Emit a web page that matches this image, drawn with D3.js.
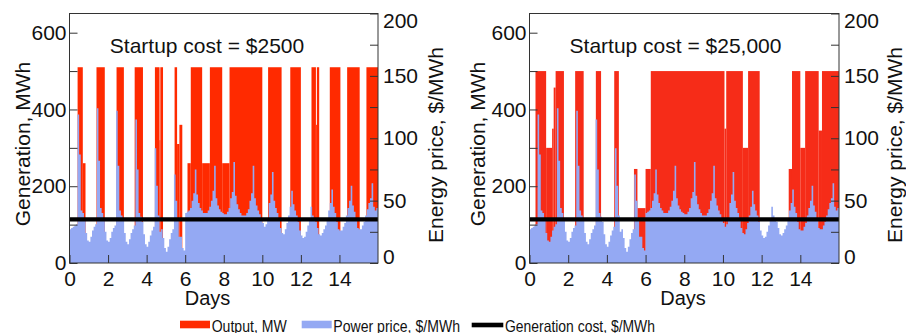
<!DOCTYPE html>
<html>
<head>
<meta charset="utf-8">
<script src="https://cdn.jsdelivr.net/npm/d3@7"></script>
<style>
body { margin: 0; background: #fff; }
svg { display: block; font-family: "Liberation Sans", Arial, Helvetica, sans-serif; }
</style>
</head>
<body>
<svg width="906" height="333"></svg>
<script>
// tick values
var xTicks = [0, 2, 4, 6, 8, 10, 12, 14]
var genTicks = [0, 200, 400, 600]
var genAll = [0, 100, 200, 300, 400, 500, 600]
var priceTicks = [0, 50, 100, 150, 200]
var priceAll = [0, 25, 50, 75, 100, 125, 150, 175, 200]

// power price, $/MWh, one row per day, 2-hour steps
var price = [
  [27, 28, 29, 30, 31, 119, 87, 42, 40, 36, 24, 18],
  [17, 21, 26, 29, 31, 124, 82, 44, 40, 35, 25, 18],
  [17, 20, 25, 28, 30, 122, 78, 42, 38, 34, 24, 17],
  [15, 19, 24, 27, 30, 115, 75, 40, 37, 33, 23, 15],
  [13, 17, 22, 26, 29, 92, 62, 38, 25, 27, 20, 12],
  [9, 13, 19, 24, 27, 71, 50, 36, 21, 21, 12, 10],
  [40, 41, 42, 44, 50, 56, 75, 55, 48, 44, 42, 40],
  [40, 40, 42, 45, 50, 58, 78, 52, 46, 43, 41, 40],
  [39, 39, 41, 44, 52, 57, 81, 54, 47, 43, 40, 38],
  [38, 38, 40, 43, 50, 56, 78, 52, 46, 42, 39, 36],
  [32, 29, 31, 36, 48, 55, 73, 50, 44, 40, 35, 28],
  [24, 23, 27, 32, 38, 45, 58, 47, 42, 38, 33, 26],
  [22, 20, 21, 25, 30, 36, 45, 38, 35, 33, 28, 23],
  [22, 24, 27, 30, 36, 42, 48, 59, 45, 40, 33, 27],
  [26, 26, 29, 32, 38, 44, 50, 62, 46, 41, 34, 28],
  [27, 27, 30, 33, 38, 43, 48, 52, 64, 45, 42, 44]
]

var cost = 35

// output, MW: [start day, end day, level]
var outputLow = [
  [0.42, 0.69, 510], [0.69, 0.83, 260],
  [1.40, 1.83, 510],
  [2.44, 2.82, 510],
  [3.38, 3.81, 510],
  [4.43, 4.67, 510], [4.67, 4.71, 320], [4.71, 4.85, 510],
  [5.45, 5.58, 510], [5.58, 5.70, 310], [5.70, 5.85, 360],
  [6.12, 6.29, 260], [6.29, 6.88, 510], [6.88, 7.28, 260], [7.28, 7.92, 510], [7.92, 8.30, 260],
  [8.30, 10.0, 510],
  [10.30, 11.0, 510],
  [11.45, 12.0, 510],
  [12.55, 12.78, 510], [12.78, 12.83, 360], [12.83, 12.95, 510],
  [13.5, 14.05, 510],
  [14.4, 15.05, 510],
  [15.4, 16.0, 510]
]
var outputHigh = [
  [0.31, 0.86, 500], [0.86, 1.17, 300], [1.17, 1.25, 350], [1.25, 1.35, 457], [1.35, 1.78, 500],
  [2.36, 2.80, 500],
  [3.43, 3.70, 500],
  [4.38, 4.62, 500],
  [5.40, 5.58, 245], [5.58, 6.0, 143], [6.0, 6.27, 245],
  [6.27, 10.08, 500], [10.08, 10.17, 350], [10.17, 11.03, 500], [11.03, 11.3, 300], [11.3, 11.9, 500],
  [13.4, 13.57, 245], [13.57, 14.0, 500], [14.0, 14.25, 300], [14.25, 14.95, 500], [14.95, 15.12, 345], [15.12, 16.0, 500]
]

var titles = ["Startup cost = $2500", "Startup cost = $25,000"]
var legendLabels = ["Output, MW", "Power price, $/MWh", "Generation cost, $/MWh"]

var blue = "#94a9f3"
var svg = d3.select("svg")
var yTop = 13.5, yBot = 263

var series = []
price.forEach((row, d) => row.forEach((v, i) => series.push([d + i / 12, v])))
series.push([16, price[15][11]])

var panels = [
  {x0: 69.5, x1: 378, out: outputLow, title: titles[0], red: "#ff2a00", tx: 207, dx: 207.5, lt: 30, rt: 442.5},
  {x0: 529.5, x1: 839, out: outputHigh, title: titles[1], red: "#f62c18", tx: 675.5, dx: 683, lt: 484.5, rt: 902}
]

panels.forEach(p => {
  var x = d3.scaleLinear().domain([0, 16]).range([p.x0, p.x1])
  var yG = d3.scaleLinear().domain([0, 650]).range([yBot, yTop])
  var yP = d3.scaleLinear().domain([0, 200]).range([yBot, yTop])
  var g = svg.append("g")

  g.selectAll("rect.out").data(p.out).join("rect")
    .attr("class", "out")
    .attr("x", d => x(d[0]))
    .attr("width", d => x(d[1]) - x(d[0]))
    .attr("y", d => yG(d[2]))
    .attr("height", d => yG(0) - yG(d[2]))
    .attr("fill", p.red)

  g.append("path").datum(series)
    .attr("fill", blue)
    .attr("d", d3.area().curve(d3.curveStepAfter)
      .x(d => x(d[0])).y0(yP(0)).y1(d => yP(d[1])))

  g.append("line")
    .attr("x1", x(0)).attr("x2", x(16))
    .attr("y1", yP(cost)).attr("y2", yP(cost))
    .attr("stroke", "#000").attr("stroke-width", 4.3)

  g.append("rect")
    .attr("x", p.x0).attr("y", yTop)
    .attr("width", p.x1 - p.x0).attr("height", yBot - yTop)
    .attr("fill", "none").attr("stroke", "#333").attr("stroke-width", 1)

  var ax = g.append("g").attr("transform", `translate(0,${yBot})`)
    .call(d3.axisBottom(x).tickValues(xTicks).tickSize(-8).tickPadding(8.5))
  var ay = g.append("g").attr("transform", `translate(${p.x0},0)`)
    .call(d3.axisLeft(yG).tickValues(genAll).tickSize(-8).tickPadding(3)
      .tickFormat(d => genTicks.includes(d) ? d : ""))
  var ay2 = g.append("g").attr("transform", `translate(${p.x1},0)`)
    .call(d3.axisRight(yP).tickValues(priceAll).tickSize(-8).tickPadding(5)
      .tickFormat(d => priceTicks.includes(d) ? d : ""))
  ay2.selectAll("text")
    .attr("y", d => Math.min(Math.max(yP(d), 21), 256.5) - yP(d))

  ;[ax, ay, ay2].forEach(a => {
    a.select(".domain").remove()
    a.selectAll("line").attr("stroke", "#333")
    a.selectAll("text").attr("font-size", 21).attr("fill", "#111")
      .attr("font-family", "Liberation Sans, Arial, sans-serif")
  })

  g.append("text").attr("x", p.tx).attr("y", 53)
    .attr("text-anchor", "middle").attr("font-size", 21).attr("fill", "#111")
    .text(p.title)

  g.append("text").attr("x", p.dx).attr("y", 305)
    .attr("text-anchor", "middle").attr("font-size", 20).attr("fill", "#111")
    .text("Days")

  g.append("text").attr("transform", `translate(${p.lt},144) rotate(-90)`)
    .attr("text-anchor", "middle").attr("font-size", 21).attr("fill", "#111")
    .text("Generation, MWh")

  g.append("text").attr("transform", `translate(${p.rt},145) rotate(-90)`)
    .attr("text-anchor", "middle").attr("font-size", 21).attr("fill", "#111")
    .text("Energy price, $/MWh")
})

// legend
var legendItems = [
  {label: legendLabels[0], color: "#ff2a00", sx: 180, sw: 30, sy: 320.7, sh: 7.6, tx: 211.7, tl: 75},
  {label: legendLabels[1], color: blue, sx: 301.7, sw: 30, sy: 320.7, sh: 7.6, tx: 333.3, tl: 126.7},
  {label: legendLabels[2], color: "#000", sx: 471.7, sw: 31.6, sy: 322.7, sh: 4.6, tx: 505, tl: 150}
]
var lg = svg.append("g")
lg.selectAll("rect").data(legendItems).join("rect")
  .attr("x", d => d.sx).attr("y", d => d.sy)
  .attr("width", d => d.sw).attr("height", d => d.sh)
  .attr("fill", d => d.color)
lg.selectAll("text").data(legendItems).join("text")
  .attr("x", d => d.tx).attr("y", 331.5)
  .attr("font-size", 16.5).attr("fill", "#111")
  .attr("textLength", d => d.tl).attr("lengthAdjust", "spacingAndGlyphs")
  .text(d => d.label)
</script>
</body>
</html>
